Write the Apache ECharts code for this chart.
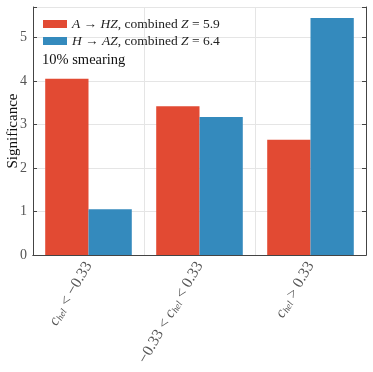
<!DOCTYPE html>
<html>
<head>
<meta charset="utf-8">
<script src="https://cdn.jsdelivr.net/npm/echarts@6/dist/echarts.min.js"></script>
<style>
  html, body { margin: 0; padding: 0; background: #fff; }
  #chart { width: 373px; height: 372px; }
</style>
</head>
<body>
<div id="chart"></div>
<script>
  var categories = ['c_hel < −0.33', '−0.33 < c_hel < 0.33', 'c_hel > 0.33'];
  var seriesNames = ['A → HZ, combined Z = 5.9', 'H → AZ, combined Z = 6.4'];
  var ahzValues = [4.05, 3.42, 2.65];
  var hazValues = [1.05, 3.17, 5.45];
  var yTicks = [0, 1, 2, 3, 4, 5];

  var serif = 'Liberation Serif';
  var frameColor = '#444';
  var gridColor = '#e5e5e5';

  function catLabel(v) {
    var parts = v.split('c_hel');
    return parts.map(function (p) { return p ? '{n|' + p + '}' : ''; }).join('{i|c}{s|hel}');
  }

  function legendLabel(name) {
    // italic for the math symbols
    var m = name.match(/^(\w) → (\w+), combined Z = (.*)$/);
    return '{i|' + m[1] + '}{n| → }{i|' + m[2] + '}{n|, combined }{i|Z}{n| = ' + m[3] + '}';
  }

  var chart = echarts.init(document.getElementById('chart'));
  chart.setOption({
    animation: false,
    grid: { left: 33, right: 7, top: 7, bottom: 117, outerBoundsMode: 'none', containLabel: false },
    legend: {
      orient: 'vertical',
      left: 38,
      top: 12,
      itemWidth: 24,
      itemHeight: 8,
      itemGap: 3,
      icon: 'rect',
      formatter: legendLabel,
      textStyle: {
        fontFamily: serif,
        fontSize: 13.5,
        color: '#222',
        rich: {
          i: { fontFamily: serif, fontStyle: 'italic', fontSize: 13.5, color: '#222' },
          n: { fontFamily: serif, fontSize: 13.5, color: '#222' }
        }
      }
    },
    graphic: [{
      type: 'text',
      left: 42,
      top: 53,
      style: { text: '10% smearing', fontFamily: serif, fontSize: 14.5, fill: '#111' }
    }],
    xAxis: [{
      type: 'category',
      data: categories,
      axisLine: { lineStyle: { color: frameColor, width: 1 } },
      axisTick: { inside: true, length: 4, alignWithLabel: true, lineStyle: { color: frameColor } },
      splitLine: { show: true, lineStyle: { color: gridColor } },
      axisLabel: {
        rotate: 60,
        margin: 8,
        formatter: catLabel,
        rich: {
          n: { fontFamily: serif, fontSize: 15.5, color: '#555' },
          i: { fontFamily: serif, fontStyle: 'italic', fontSize: 15.5, color: '#555' },
          s: { fontFamily: serif, fontStyle: 'italic', fontSize: 9.5, color: '#555', verticalAlign: 'bottom', padding: [6, 0, 0, 0] }
        }
      }
    }, {
      type: 'category',
      position: 'top',
      data: categories,
      axisLine: { lineStyle: { color: frameColor } },
      axisTick: { inside: true, length: 4, alignWithLabel: true, lineStyle: { color: frameColor } },
      axisLabel: { show: false }
    }],
    yAxis: [{
      type: 'value',
      min: 0,
      max: 5.7,
      interval: 1,
      name: 'Significance',
      nameLocation: 'middle',
      nameGap: 12,
      nameMoveOverlap: false,
      nameTextStyle: { fontFamily: serif, fontSize: 15, color: '#111' },
      axisLine: { show: true, lineStyle: { color: frameColor } },
      axisTick: { show: true, inside: true, length: 4, lineStyle: { color: frameColor } },
      splitLine: { lineStyle: { color: gridColor } },
      axisLabel: {
        margin: 6,
        fontFamily: serif,
        fontSize: 14,
        color: '#555',
        formatter: function (v) { return yTicks.indexOf(v) >= 0 ? String(v) : ''; }
      }
    }, {
      type: 'value',
      position: 'right',
      min: 0,
      max: 5.7,
      interval: 1,
      axisLine: { show: true, lineStyle: { color: frameColor } },
      axisTick: { show: true, inside: true, length: 4, lineStyle: { color: frameColor } },
      splitLine: { show: false },
      axisLabel: { show: false }
    }],
    series: [{
      name: seriesNames[0],
      type: 'bar',
      data: ahzValues,
      barWidth: '39%',
      barGap: '0%',
      itemStyle: { color: '#E24A33' }
    }, {
      name: seriesNames[1],
      type: 'bar',
      data: hazValues,
      barWidth: '39%',
      barGap: '0%',
      itemStyle: { color: '#348ABD' }
    }]
  });
</script>
</body>
</html>
